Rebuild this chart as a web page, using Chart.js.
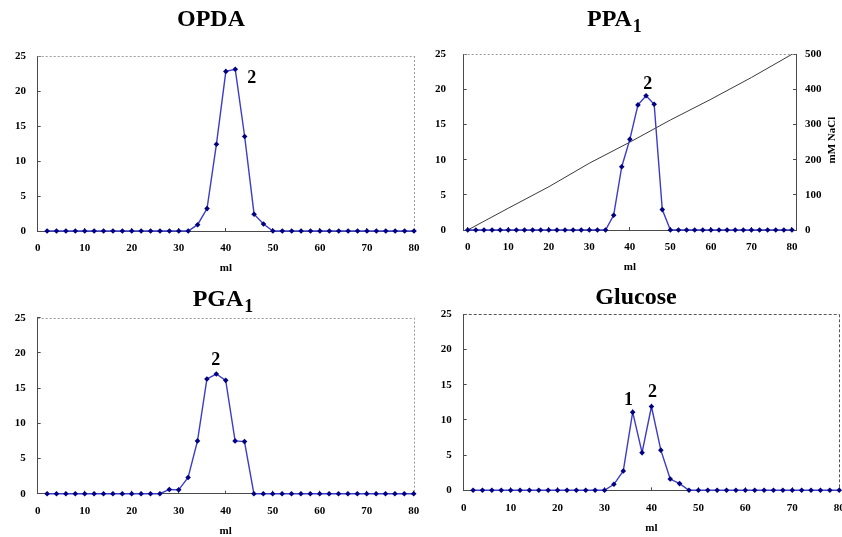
<!DOCTYPE html>
<html>
<head>
<meta charset="utf-8">
<script src="https://cdn.jsdelivr.net/npm/chart.js@4.4.1/dist/chart.umd.min.js"></script>
<style>
  html, body { margin:0; padding:0; background:#fff; overflow:hidden; }
  #wrap { position:relative; width:842px; height:537px; }
  canvas { position:absolute; }
</style>
</head>
<body>
<div id="wrap">
  <canvas id="cOPDA" width="421" height="280" style="left:0;top:0"></canvas>
  <canvas id="cPPA"  width="421" height="280" style="left:421px;top:0"></canvas>
  <canvas id="cPGA"  width="421" height="270" style="left:0;top:270px"></canvas>
  <canvas id="cGlc"  width="421" height="270" style="left:421px;top:270px"></canvas>
</div>
<script>
/* ── fractions (ml) ─────────────────────────────────────── */
const ML = [2,4,6,8,10,12,14,16,18,20,22,24,26,28,30,32,34,36,38,40,
            42,44,46,48,50,52,54,56,58,60,62,64,66,68,70,72,74,76,78,80];
const ML_PPA = [0,2,4,6,8,10,12,14,16,18,20,22,24,26,28,30,32,34,36,38,40,
                42,44,46,48,50,52,54,56,58,60,62,64,66,68,70,72,74,76,78,80];

/* ── eluted activity per fraction ───────────────────────── */
const OPDA = [0,0,0,0,0,0,0,0,0,0,0,0,0,0,0,0,
              0.9,3.2,12.4,22.8,23.1,13.5,2.4,1.0,
              0,0,0,0,0,0,0,0,0,0,0,0,0,0,0,0];
const PPA1 = [0,0,0,0,0,0,0,0,0,0,0,0,0,0,0,0,0,0,
              2.1,9.0,12.9,17.8,19.1,17.9,2.9,
              0,0,0,0,0,0,0,0,0,0,0,0,0,0,0,0];
const PGA1 = [0,0,0,0,0,0,0,0,0,0,0,0,0,
              0.6,0.55,2.3,7.5,16.3,17.0,16.1,7.5,7.4,
              0,0,0,0,0,0,0,0,0,0,0,0,0,0,0,0,0,0];
const GLUCOSE = [0,0,0,0,0,0,0,0,0,0,0,0,0,0,0,
                 0.85,2.75,11.1,5.35,11.9,5.7,1.6,0.95,
                 0,0,0,0,0,0,0,0,0,0,0,0,0,0,0,0,0];

/* ── salt gradient ──────────────────────────────────────── */
const NACL_ML = [0,10,20,30,40,50,60,70,80];
const NACL_MM = [0,62,123,190,250,313,372,434,500];

/* ── ticks ──────────────────────────────────────────────── */
const X_TICKS = [0,10,20,30,40,50,60,70,80];
const Y_TICKS = [0,5,10,15,20,25];
const NACL_TICKS = [0,100,200,300,400,500];

const SERIF = "'Liberation Serif', 'Times New Roman', serif";
const TICK_FONT = { family: SERIF, size: 11, weight: 'bold' };
const AXIS = '#4a4a4a';
const LINE = '#3c3cc8';
const MARK = '#000080';

const pairs = (xs, ys) => xs.map((x, i) => ({ x, y: ys[i] }));
const fixTicks = list => s => { s.ticks = list.map(v => ({ value: v })); };

/* dotted frame, titles, peak numbers and the rotated NaCl title */
const panelText = {
  id: 'panelText',
  beforeDatasetsDraw(chart, args, o) {
    const { ctx, chartArea: a } = chart;
    ctx.save();
    ctx.strokeStyle = o.frame;
    ctx.lineWidth = 1;
    ctx.setLineDash(o.dash);
    ctx.beginPath();
    ctx.moveTo(a.left, Math.round(a.top) + 0.5);
    ctx.lineTo(a.right, Math.round(a.top) + 0.5);
    if (!o.rightTitle) {
      ctx.moveTo(Math.round(a.right) + 0.5, a.top);
      ctx.lineTo(Math.round(a.right) + 0.5, a.bottom);
    }
    ctx.stroke();
    ctx.restore();
  },
  afterDraw(chart, args, o) {
    const { ctx, scales, chartArea } = chart;
    ctx.save();
    ctx.fillStyle = '#000';
    ctx.textBaseline = 'alphabetic';
    ctx.textAlign = 'left';
    ctx.font = `bold 24px ${SERIF}`;
    ctx.fillText(o.title, o.tx, o.ty);
    if (o.sub) {
      const w = ctx.measureText(o.title).width;
      ctx.font = `bold 18px ${SERIF}`;
      ctx.fillText(o.sub, o.tx + w + 1, o.ty + 5.7);
    }
    ctx.font = `bold 18px ${SERIF}`;
    ctx.textAlign = 'center';
    (o.peaks || []).forEach(p => {
      ctx.fillText(p.text, scales.x.getPixelForValue(p.x), scales.y.getPixelForValue(p.y));
    });
    if (o.rightTitle) {
      ctx.font = `bold 11px ${SERIF}`;
      ctx.textBaseline = 'middle';
      ctx.translate(o.rightTitleX, (chartArea.top + chartArea.bottom) / 2 - 2);
      ctx.rotate(-Math.PI / 2);
      ctx.fillText(o.rightTitle, 0, 0);
    }
    ctx.restore();
  }
};

function panel(id, p) {
  const datasets = [{
    data: pairs(p.ml, p.values),
    xAxisID: 'x', yAxisID: 'y',
    borderColor: LINE, borderWidth: 1.4,
    pointStyle: 'rectRot', pointRadius: 2.8, pointHoverRadius: 2.8,
    pointBackgroundColor: MARK, pointBorderWidth: 0,
    clip: false, order: 1
  }];

  const scales = {
    x: {
      type: 'linear', min: p.xMin, max: p.xMax,
      afterBuildTicks: fixTicks(X_TICKS),
      afterFit: s => { s.height = 45; s.paddingLeft = 0; s.paddingRight = 0; },
      grid: { drawOnChartArea: false, tickLength: -3, color: AXIS },
      border: { color: AXIS, width: 1 },
      ticks: { padding: 13.9, font: TICK_FONT, color: '#000', maxRotation: 0, autoSkip: false },
      title: { display: true, text: 'ml', font: TICK_FONT, color: '#000', padding: { top: 0, bottom: 1 } }
    },
    y: {
      type: 'linear', min: 0, max: 25,
      afterBuildTicks: fixTicks(Y_TICKS),
      afterFit: s => { s.width = p.left; s.paddingTop = 0; s.paddingBottom = 0; },
      grid: { drawOnChartArea: false, tickLength: -3, color: AXIS },
      border: { color: AXIS, width: 1 },
      ticks: { padding: p.yPad, font: TICK_FONT, color: '#000', autoSkip: false }
    }
  };

  if (p.nacl) {
    datasets.push({
      data: pairs(NACL_ML, NACL_MM),
      xAxisID: 'x', yAxisID: 'yNaCl',
      borderColor: '#3a3a3a', borderWidth: 1,
      pointRadius: 0, pointHoverRadius: 0, clip: false, order: 2
    });
    scales.yNaCl = {
      type: 'linear', position: 'right', min: 0, max: 500,
      afterBuildTicks: fixTicks(NACL_TICKS),
      afterFit: s => { s.width = 46; s.paddingTop = 0; s.paddingBottom = 0; },
      grid: { drawOnChartArea: false, tickLength: -3, color: AXIS },
      border: { color: AXIS, width: 1 },
      ticks: { padding: 12, font: TICK_FONT, color: '#000', autoSkip: false }
    };
  }

  return new Chart(document.getElementById(id), {
    type: 'line',
    data: { datasets },
    plugins: [panelText],
    options: {
      responsive: false,
      animation: false,
      events: [],
      layout: { padding: p.pad },
      plugins: {
        legend: { display: false },
        tooltip: { enabled: false },
        panelText: p.text
      },
      scales
    }
  });
}

panel('cOPDA', {
  ml: ML, values: OPDA, xMin: 0, xMax: 80,
  left: 37.7, yPad: 14.7,
  pad: { top: 56, right: 7, bottom: 4, left: 0 },
  text: { title: 'OPDA', tx: 177, ty: 26, frame: '#9a9a9a', dash: [2, 2],
          peaks: [{ text: '2', x: 45.5, y: 21.2 }] }
});

panel('cPPA', {
  ml: ML_PPA, values: PPA1, xMin: -1, xMax: 81, nacl: true,
  left: 42.7, yPad: 20.7,
  pad: { top: 54.3, right: 0, bottom: 5, left: 0 },
  text: { title: 'PPA', sub: '1', tx: 166, ty: 26, frame: '#9a9a9a', dash: [2, 2],
          peaks: [{ text: '2', x: 44.4, y: 20.0 }],
          rightTitle: 'mM NaCl', rightTitleX: 411.5 }
});

panel('cPGA', {
  ml: ML, values: PGA1, xMin: 0, xMax: 80,
  left: 37.7, yPad: 15,
  pad: { top: 47.7, right: 7.3, bottom: 1.3, left: 0 },
  text: { title: 'PGA', sub: '1', tx: 192.7, ty: 36, frame: '#9a9a9a', dash: [2, 2],
          peaks: [{ text: '2', x: 37.9, y: 18.3 }] }
});

panel('cGlc', {
  ml: ML, values: GLUCOSE, xMin: 0, xMax: 80,
  left: 42.7, yPad: 15,
  pad: { top: 44.3, right: 1.7, bottom: 4.7, left: 0 },
  text: { title: 'Glucose', tx: 174.3, ty: 34.3, frame: '#555555', dash: [3, 2],
          peaks: [{ text: '1', x: 35.1, y: 12.1 }, { text: '2', x: 40.2, y: 13.2 }] }
});
</script>
</body>
</html>
